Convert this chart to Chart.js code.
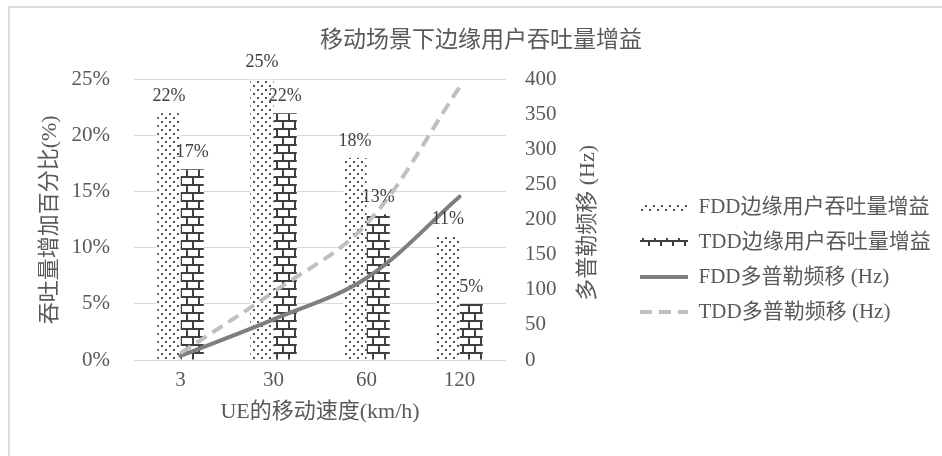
<!DOCTYPE html>
<html>
<head>
<meta charset="utf-8">
<script src="https://cdn.jsdelivr.net/npm/chart.js@4/dist/chart.umd.min.js"></script>
<style>
  html, body { margin: 0; padding: 0; background: #fff; overflow: hidden; }
  #moldura { position: absolute; left: 8px; top: 6px; width: 2000px; height: 2000px; border: 2px solid #dedede; }
  #grafico { position: absolute; left: 0; top: 0; }
</style>
</head>
<body>
<div id="moldura"></div>
<canvas id="grafico" width="942" height="456"></canvas>
<script>
// Dados
const velocidades = ['3', '30', '60', '120'];
const ganhoFdd = [22, 25, 18, 11];          // %
const ganhoTdd = [17, 22, 13, 5];           // %
const dopplerFdd = [5.8, 58, 117, 233];     // Hz
const dopplerTdd = [9.7, 97, 194, 389];     // Hz
const eixoGanho = { min: 0, max: 25, passo: 5 };
const eixoDoppler = { min: 0, max: 400, passo: 50 };

const FONTE = "'Liberation Serif', 'Noto Sans CJK SC', serif";
const COR_TEXTO = '#595959';
const LARGURA_LEGENDA = 316;

// Padrões de preenchimento
function padraoPontos() {
    const c = document.createElement('canvas');
    c.width = 8; c.height = 8;
    const g = c.getContext('2d');
    g.fillStyle = '#fff'; g.fillRect(0, 0, 8, 8);
    g.fillStyle = '#505050';
    g.fillRect(1, 1, 2, 2);
    g.fillRect(5, 5, 2, 2);
    return g.createPattern(c, 'repeat');
}

function padraoTijolos() {
    const c = document.createElement('canvas');
    c.width = 12; c.height = 16;
    const g = c.getContext('2d');
    g.fillStyle = '#fff'; g.fillRect(0, 0, 12, 16);
    g.fillStyle = '#404040';
    g.fillRect(0, 0, 12, 2);
    g.fillRect(0, 8, 12, 2);
    g.fillRect(0, 2, 2, 6);
    g.fillRect(6, 10, 2, 6);
    return g.createPattern(c, 'repeat');
}

const pontos = padraoPontos();
const tijolos = padraoTijolos();

// Rótulos de porcentagem sobre as barras
const rotulosBarras = {
    id: 'rotulosBarras',
    afterDatasetsDraw(chart) {
        const ctx = chart.ctx;
        ctx.save();
        ctx.font = '18px ' + FONTE;
        ctx.fillStyle = '#404040';
        ctx.textAlign = 'center';
        ctx.textBaseline = 'middle';
        [0, 1].forEach(di => {
            const meta = chart.getDatasetMeta(di);
            meta.data.forEach((barra, i) => {
                ctx.fillText(chart.data.datasets[di].data[i] + '%', barra.x, barra.y - 17);
            });
        });
        ctx.restore();
    }
};

// Título do eixo direito (lido de baixo para cima, como no original)
const tituloDireita = {
    id: 'tituloDireita',
    afterDraw(chart) {
        const ctx = chart.ctx;
        const area = chart.chartArea;
        ctx.save();
        ctx.translate(588, (area.top + area.bottom) / 2 + 3);
        ctx.rotate(-Math.PI / 2);
        ctx.font = '22px ' + FONTE;
        ctx.fillStyle = COR_TEXTO;
        ctx.textAlign = 'center';
        ctx.textBaseline = 'middle';
        ctx.fillText('多普勒频移 (Hz)', 0, 0);
        ctx.restore();
    }
};

// Largura fixa da legenda
const larguraLegenda = {
    id: 'larguraLegenda',
    beforeLayout(chart) {
        const lg = chart.legend;
        if (lg && !lg._fixo) {
            const fitOriginal = lg.fit;
            lg.fit = function () {
                fitOriginal.call(this);
                this.width = LARGURA_LEGENDA;
            };
            lg._fixo = true;
        }
    }
};

const ctx = document.getElementById('grafico').getContext('2d');

new Chart(ctx, {
    data: {
        labels: velocidades,
        datasets: [
            {
                type: 'bar',
                label: 'FDD边缘用户吞吐量增益',
                data: ganhoFdd,
                backgroundColor: pontos,
                borderWidth: 0,
                yAxisID: 'y',
                order: 2,
                categoryPercentage: 0.5,
                barPercentage: 1
            },
            {
                type: 'bar',
                label: 'TDD边缘用户吞吐量增益',
                data: ganhoTdd,
                backgroundColor: tijolos,
                borderWidth: 0,
                yAxisID: 'y',
                order: 2,
                categoryPercentage: 0.5,
                barPercentage: 1
            },
            {
                type: 'line',
                label: 'FDD多普勒频移 (Hz)',
                data: dopplerFdd,
                borderColor: '#7f7f7f',
                backgroundColor: '#7f7f7f',
                borderWidth: 4,
                pointRadius: 0,
                tension: 0.35,
                borderCapStyle: 'round',
                fill: false,
                yAxisID: 'y1',
                order: 1
            },
            {
                type: 'line',
                label: 'TDD多普勒频移 (Hz)',
                data: dopplerTdd,
                borderColor: '#bfbfbf',
                backgroundColor: '#bfbfbf',
                borderWidth: 4,
                borderDash: [12, 7],
                pointRadius: 0,
                tension: 0.35,
                fill: false,
                yAxisID: 'y1',
                order: 0
            }
        ]
    },
    options: {
        responsive: false,
        animation: false,
        devicePixelRatio: 1,
        layout: { padding: { left: 20, right: 0, top: 16, bottom: 20 } },
        plugins: {
            tooltip: { enabled: false },
            title: {
                display: true,
                text: '移动场景下边缘用户吞吐量增益',
                color: COR_TEXTO,
                font: { family: FONTE, size: 23, weight: 'normal' },
                padding: { top: 11, bottom: 25 }
            },
            legend: {
                display: true,
                position: 'right',
                align: 'center',
                title: { display: true, text: '', font: { size: 10 }, padding: { top: 28, bottom: 27 } },
                labels: {
                    color: COR_TEXTO,
                    font: { family: FONTE, size: 21 },
                    padding: 14,
                    usePointStyle: true,
                    pointStyleWidth: 48,
                    boxHeight: 8,
                    generateLabels(chart) {
                        return chart.data.datasets.map((ds, i) => {
                            const linha = ds.type === 'line';
                            return {
                                text: ds.label,
                                datasetIndex: i,
                                fillStyle: linha ? ds.borderColor : ds.backgroundColor,
                                strokeStyle: ds.borderColor || 'transparent',
                                lineWidth: linha ? 4 : 0,
                                lineDash: ds.borderDash || [],
                                pointStyle: linha ? 'line' : 'rect',
                                fontColor: COR_TEXTO,
                                hidden: false
                            };
                        });
                    }
                },
                sort: (a, b) => a.datasetIndex - b.datasetIndex
            }
        },
        scales: {
            x: {
                grid: { display: false, drawTicks: false },
                border: { display: false },
                ticks: { color: COR_TEXTO, font: { family: FONTE, size: 21 }, padding: 8 },
                title: {
                    display: true,
                    text: 'UE的移动速度(km/h)',
                    color: COR_TEXTO,
                    font: { family: FONTE, size: 22 },
                    padding: { top: 0, bottom: 11 }
                },
                afterFit(scale) { scale.height = 76; }
            },
            y: {
                position: 'left',
                min: eixoGanho.min,
                max: eixoGanho.max,
                grid: { color: '#d9d9d9', lineWidth: 1, drawTicks: false },
                border: { display: false },
                ticks: {
                    stepSize: eixoGanho.passo,
                    color: COR_TEXTO,
                    font: { family: FONTE, size: 21 },
                    padding: 24,
                    callback: v => v + '%'
                },
                title: {
                    display: true,
                    text: '吞吐量增加百分比(%)',
                    color: COR_TEXTO,
                    font: { family: FONTE, size: 22 },
                    padding: { top: 17, bottom: 0 }
                },
                afterFit(scale) { scale.width = 114; }
            },
            y1: {
                position: 'right',
                min: eixoDoppler.min,
                max: eixoDoppler.max,
                grid: { display: false, drawTicks: false },
                border: { display: false },
                ticks: {
                    stepSize: eixoDoppler.passo,
                    color: COR_TEXTO,
                    font: { family: FONTE, size: 21 },
                    padding: 19
                },
                afterFit(scale) { scale.width = 120; }
            }
        }
    },
    plugins: [larguraLegenda, rotulosBarras, tituloDireita]
});
</script>
</body>
</html>
